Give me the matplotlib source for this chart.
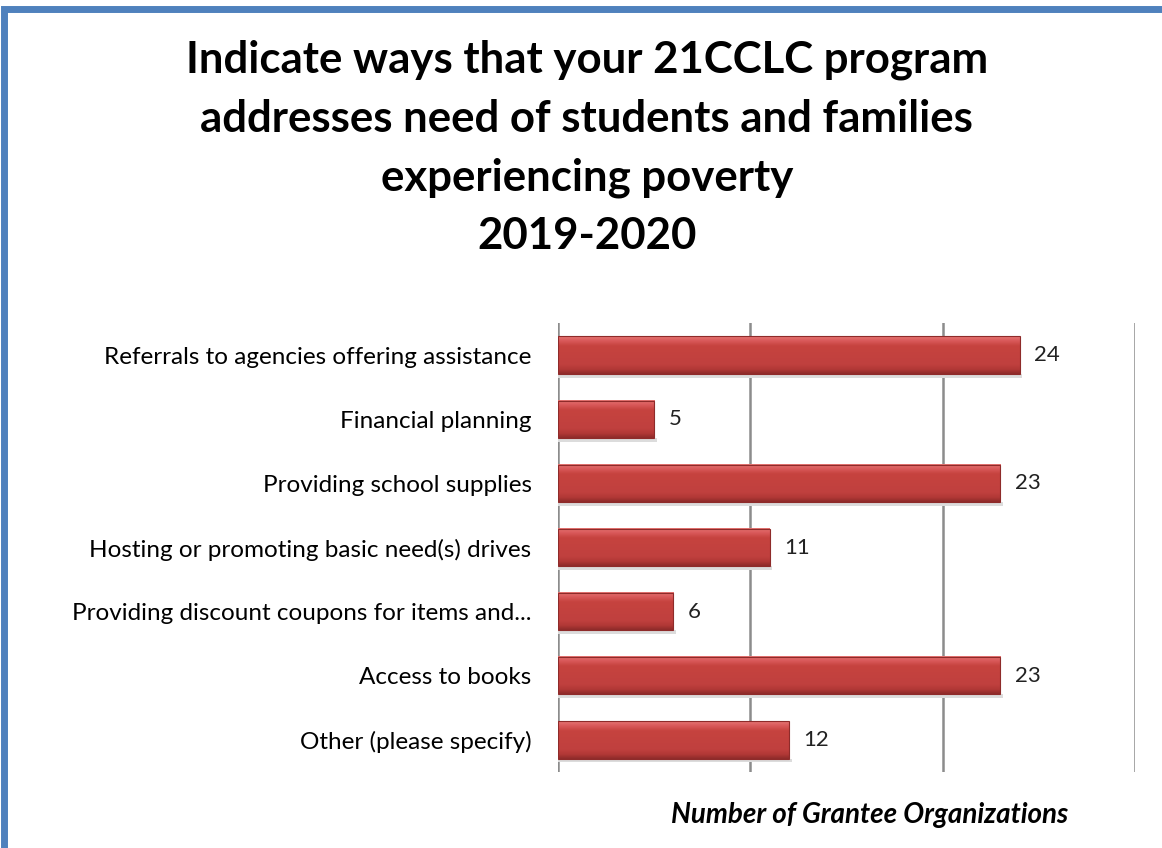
import numpy as np
import matplotlib.pyplot as plt
from matplotlib.patches import Rectangle
from matplotlib.colors import LinearSegmentedColormap

plt.rcParams['font.family'] = ['Lato', 'DejaVu Sans']

########################################
#   Data
########################################

categories = [
    'Referrals to agencies offering assistance',
    'Financial planning',
    'Providing school supplies',
    'Hosting or promoting basic need(s) drives',
    'Providing discount coupons for items and...',
    'Access to books',
    'Other (please specify)',
]
counts = [24, 5, 23, 11, 6, 23, 12]

title = ('Indicate ways that your 21CCLC program\n'
         'addresses need of students and families\n'
         'experiencing poverty\n'
         '2019-2020')
xname = 'Number of Grantee Organizations'

########################################
#   Plot
########################################

fig = plt.figure(figsize=(11.62, 8.48), dpi=100)
fig.patch.set_facecolor('white')

# blue frame (left / top visible)
fig.patches.append(Rectangle((4 / 1162, -0.1), 1.2, 1 - 9 / 848 + 0.1,
                             transform=fig.transFigure, fill=False,
                             edgecolor='#4F81BD', linewidth=5))

ax = fig.add_axes([558 / 1162, 1 - 772 / 848, (1135 - 558) / 1162, (772 - 323) / 848])

y = np.arange(len(categories))
bars = ax.barh(y, counts, height=0.58, color='#C0403E', edgecolor='none', zorder=3)

# gradient for the bevelled look (row 0 = top of bar)
grad = LinearSegmentedColormap.from_list(
    'bev', [(0.0, '#E57573'), (0.12, '#D9595A'), (0.25, '#C6433F'),
            (0.75, '#C0403E'), (0.88, '#B23836'), (1.0, '#8E2B2A')])
g = np.linspace(0, 1, 100).reshape(-1, 1)
for b in bars:
    x0, y0, w, h = b.get_x(), b.get_y(), b.get_width(), b.get_height()
    # soft shadow
    ax.add_patch(Rectangle((x0, y0 + h), w + 0.15, 0.06, color='#dcdcdc', zorder=2, lw=0))
    ax.imshow(g, cmap=grad, aspect='auto', extent=(x0, x0 + w, y0 + h, y0),
              zorder=4, interpolation='bicubic')
    ax.add_patch(Rectangle((x0, y0), w, h, fill=False, edgecolor='#8E2B2A', lw=0.8, zorder=5))
    ax.text(x0 + w + 0.75, y0 + h / 2, str(int(w)), va='center', ha='left',
            fontsize=16, color='#222222')

ax.set_xlim(0, 30)
ax.set_ylim(len(categories) - 0.5, -0.5)
ax.set_xticks([0, 10, 20, 30])
ax.set_xticklabels([])
ax.tick_params(axis='x', length=0)
ax.tick_params(axis='y', length=0, pad=19, labelsize=17.5)
ax.set_yticks(y)
ax.set_yticklabels(categories)
ax.grid(axis='x', color='#8c8c8c', linewidth=1.8, zorder=0)
for s in ax.spines.values():
    s.set_visible(False)

fig.text(0.505, 1 - 148 / 848, title, ha='center', va='center', fontsize=31.5,
         fontweight='bold', linespacing=1.56)
fig.text(1068 / 1162, 1 - 815 / 848, xname, ha='right', va='center', fontsize=20,
         fontweight='bold', style='italic')

plt.savefig('out.png', dpi=100)
